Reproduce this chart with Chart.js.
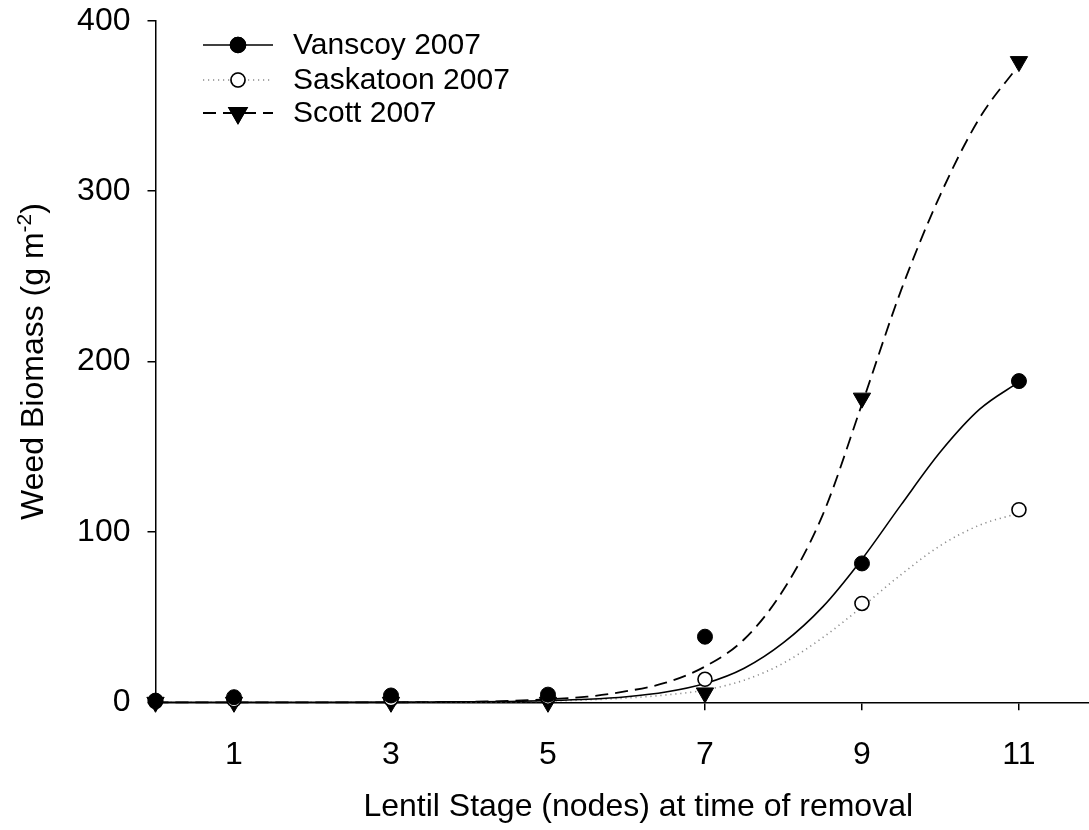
<!DOCTYPE html>
<html>
<head>
<meta charset="utf-8">
<script src="https://cdn.jsdelivr.net/npm/chart.js@4.4.1/dist/chart.umd.min.js"></script>
<style>
  html, body { margin: 0; padding: 0; background: #fff; overflow: hidden; }
  #wrap { width: 1121px; height: 830px; }
</style>
</head>
<body>
<div id="wrap"><canvas id="c" width="1121" height="830"></canvas></div>
<script>
// ---- data ----
const stageX = [0, 1, 3, 5, 7, 9, 11];
const vanscoyPts = [1, 3, 4, 4.5, 38.5, 81.5, 188.5];
const saskatoonPts = [0.5, 1.5, 2, 3, 13.5, 58, 113];
const scottPts = [0, 0, 0, 0, 5.5, 178.5, 376];

// fitted curves, values
const fitX = [0, 1, 2, 3, 3.5, 4, 4.5, 5, 5.5, 6, 6.5, 7, 7.5, 8, 8.5, 9, 9.5, 10, 10.5, 11];
const vanscoyFit = [0, 0, 0, 0.1, 0.2, 0.3, 0.5, 1, 1.8, 3.3, 6, 11, 20, 35, 56, 84, 116, 147, 172, 188];
const saskatoonFit = [0, 0, 0, 0, 0, 0.1, 0.3, 0.7, 1.4, 2.5, 4.3, 7.2, 13, 23, 38, 56, 75, 92, 104, 111];
const scottFit = [0, 0, 0, 0, 0.1, 0.3, 0.8, 1.8, 3.3, 6.5, 11.5, 21, 37, 66, 110, 175, 242, 298, 343, 374];

const seriesNames = ['Vanscoy 2007', 'Saskatoon 2007', 'Scott 2007'];
const xTickValues = [1, 3, 5, 7, 9, 11];
const yTickValues = [0, 100, 200, 300, 400];
const xTitle = 'Lentil Stage (nodes) at time of removal';
const yTitleMain = 'Weed Biomass (g m';
const yTitleSup = '-2';
const yTitleEnd = ')';

const FONT = "'Liberation Sans', Arial, Helvetica, sans-serif";
const pairs = (xs, ys) => xs.map((x, i) => ({ x: x, y: ys[i] }));

const styles = [
  { color: '#000', dash: [], width: 1.6, pointStyle: 'circle', fill: '#000', radius: 7.5, rot: 0 },
  { color: '#8c8c8c', dash: [1.2, 3.8], width: 1.6, pointStyle: 'circle', fill: '#fff', radius: 7, rot: 0 },
  { color: '#000', dash: [13, 7], width: 1.8, pointStyle: 'triangle', fill: '#000', radius: 10, rot: 180 }
];
const ptsData = [vanscoyPts, saskatoonPts, scottPts];
const fitData = [vanscoyFit, saskatoonFit, scottFit];

const datasets = [];
seriesNames.forEach((name, i) => {
  const s = styles[i];
  datasets.push({
    type: 'scatter', label: name, data: pairs(stageX, ptsData[i]), order: 0,
    showLine: false, pointStyle: s.pointStyle, pointRadius: s.radius, pointRotation: s.rot,
    pointBackgroundColor: s.fill, pointBorderColor: '#000', pointBorderWidth: i === 1 ? 1.6 : 1,
    pointHoverRadius: s.radius, clip: false
  });
});
seriesNames.forEach((name, i) => {
  const s = styles[i];
  datasets.push({
    type: 'line', label: name + ' fit', data: pairs(fitX, fitData[i]), order: 1,
    borderColor: s.color, borderDash: s.dash, borderWidth: s.width, pointRadius: 0,
    cubicInterpolationMode: 'monotone', fill: false, clip: false
  });
});

const legendPlugin = {
  id: 'customLegend',
  afterDraw(chart) {
    const ctx = chart.ctx;
    const rows = [45, 80, 113];
    ctx.save();
    seriesNames.forEach((name, i) => {
      const s = styles[i];
      const y = rows[i];
      ctx.beginPath();
      ctx.setLineDash(s.dash);
      ctx.strokeStyle = s.color;
      ctx.lineWidth = s.width;
      ctx.moveTo(203, y); ctx.lineTo(273, y);
      ctx.stroke();
      ctx.setLineDash([]);
      Chart.helpers.drawPoint(ctx, {
        pointStyle: s.pointStyle, radius: s.radius, rotation: s.rot,
        borderWidth: i === 1 ? 1.6 : 1
      }, 238, y);
      ctx.fillStyle = s.fill; ctx.strokeStyle = '#000';
      ctx.fill(); ctx.stroke();
      ctx.fillStyle = '#000';
      ctx.font = '30px ' + FONT;
      ctx.textAlign = 'left';
      ctx.textBaseline = 'middle';
      ctx.fillText(name, 293, y + 1);
    });
    ctx.restore();
  }
};

const yTitlePlugin = {
  id: 'yTitle',
  afterDraw(chart) {
    const ctx = chart.ctx;
    const area = chart.chartArea;
    ctx.save();
    ctx.fillStyle = '#000';
    const big = '32px ' + FONT, small = '21px ' + FONT;
    ctx.font = big; const w1 = ctx.measureText(yTitleMain).width; const w3 = ctx.measureText(yTitleEnd).width;
    ctx.font = small; const w2 = ctx.measureText(yTitleSup).width;
    const total = w1 + w2 + w3;
    const cy = (area.top + area.bottom) / 2;
    ctx.translate(43, cy);
    ctx.rotate(-Math.PI / 2);
    ctx.textBaseline = 'alphabetic';
    ctx.textAlign = 'left';
    let x = -total / 2;
    ctx.font = big; ctx.fillText(yTitleMain, x, 0); x += w1;
    ctx.font = small; ctx.fillText(yTitleSup, x, -12); x += w2;
    ctx.font = big; ctx.fillText(yTitleEnd, x, 0);
    ctx.restore();
  }
};

new Chart(document.getElementById('c'), {
  data: { datasets: datasets },
  options: {
    responsive: false,
    animation: false,
    devicePixelRatio: 1,
    layout: { autoPadding: false, padding: { top: 20.7, right: 0, bottom: 0, left: 0 } },
    plugins: { legend: { display: false }, tooltip: { enabled: false } },
    scales: {
      x: {
        type: 'linear', min: 0, max: 12.3,
        afterBuildTicks(scale) { scale.ticks = xTickValues.map(v => ({ value: v })); },
        afterFit(scale) { scale.height = 830 - 702.3; scale.paddingLeft = 0; scale.paddingRight = 0; },
        grid: { drawOnChartArea: false, drawTicks: true, tickLength: 8, color: '#000', lineWidth: 1.5 },
        border: { display: true, color: '#000', width: 1.5 },
        ticks: { color: '#000', font: { family: FONT, size: 32 }, padding: 26, maxRotation: 0, autoSkip: false },
        title: { display: true, text: xTitle, color: '#000', font: { family: FONT, size: 32 }, padding: { top: 0, bottom: 4 } }
      },
      y: {
        type: 'linear', min: 0, max: 400,
        afterBuildTicks(scale) { scale.ticks = yTickValues.map(v => ({ value: v })); },
        afterFit(scale) { scale.width = 155.5; scale.paddingTop = 0; scale.paddingBottom = 0; },
        grid: { drawOnChartArea: false, drawTicks: true, tickLength: 8, color: '#000', lineWidth: 1.5 },
        border: { display: true, color: '#000', width: 1.5 },
        ticks: { color: '#000', font: { family: FONT, size: 32 }, padding: 17 }
      }
    }
  },
  plugins: [legendPlugin, yTitlePlugin]
});
</script>
</body>
</html>
